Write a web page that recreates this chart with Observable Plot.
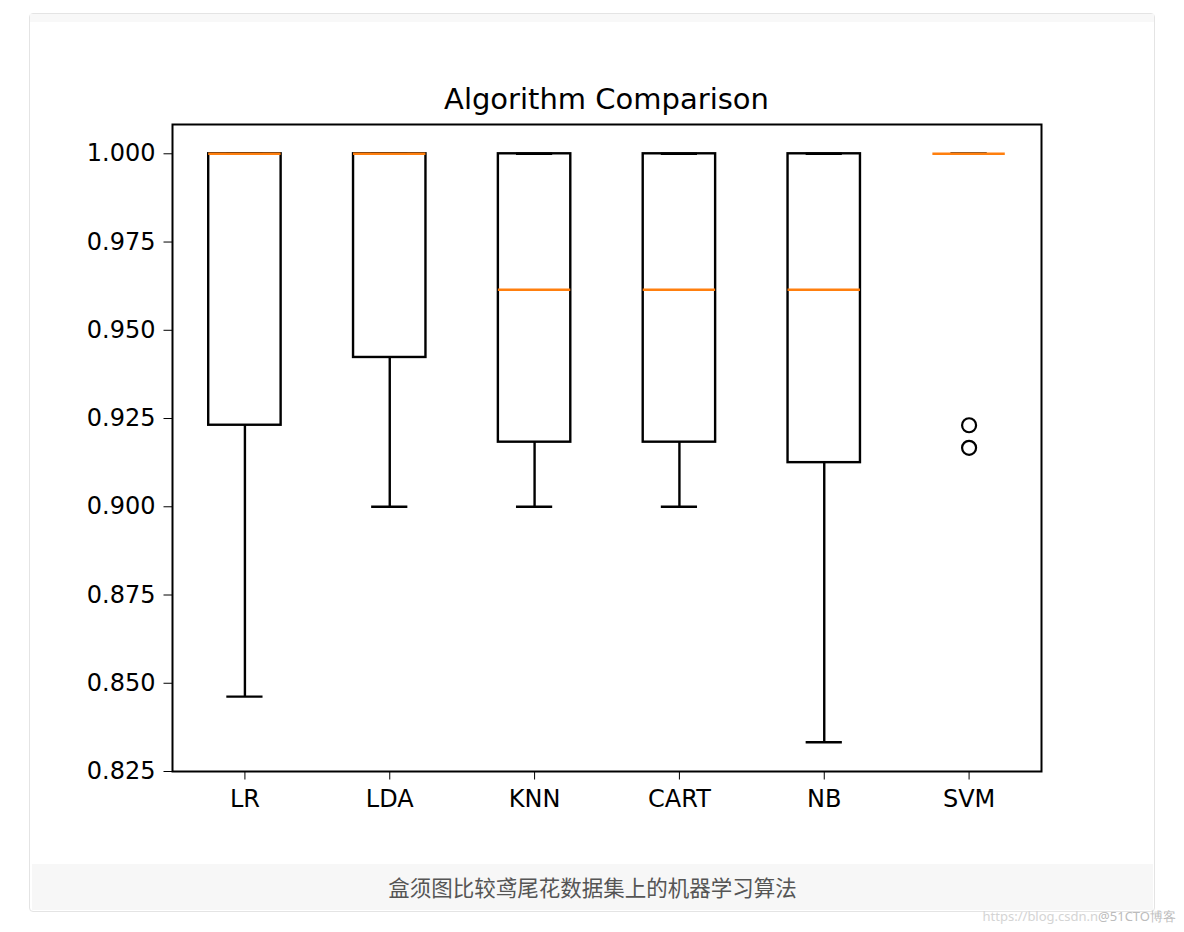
<!DOCTYPE html>
<html>
<head>
<meta charset="utf-8">
<script src="https://cdn.jsdelivr.net/npm/d3@7"></script>
<script src="https://cdn.jsdelivr.net/npm/@observablehq/plot@0.6"></script>
<style>
  html, body { margin: 0; padding: 0; background: #fff; }
  body { width: 1184px; height: 932px; position: relative; overflow: hidden; }
  #card { position: absolute; left: 29px; top: 13px; width: 1124px; height: 897px;
          border: 1.5px solid #e4e4e4; border-radius: 4px; background: #fff; }
  #topband { position: absolute; left: 0; top: 0; right: 0; height: 8px; background: #f8f8f8; }
  #chart { position: absolute; left: 32px; top: 22px; }
  #title { position: absolute; left: 172px; width: 869px; top: 81px; text-align: center;
           font-family: "DejaVu Sans", sans-serif; font-size: 29px; color: #000; line-height: 36px; }
  #caption { position: absolute; left: 32px; top: 864px; width: 1121px; height: 46px;
             background: #f7f7f7; text-align: center; line-height: 46px;
             font-family: "Noto Sans CJK SC", sans-serif; font-size: 21.5px; color: #555; }
  #wm { position: absolute; right: 8px; top: 906px; font-family: "Noto Sans", sans-serif;
        font-size: 13px; color: #d4d4d4; line-height: 20px; }
  #wm b { font-weight: normal; color: #bcbcbc; }
</style>
</head>
<body>
<div id="card"><div id="topband"></div></div>
<div id="chart"></div>
<div id="title">Algorithm Comparison</div>
<div id="caption">盒须图比较鸢尾花数据集上的机器学习算法</div>
<div id="wm">https://blog.csdn.n<b>@51CTO博客</b></div>
<script>
// ---- data ----
const categories = ["LR", "LDA", "KNN", "CART", "NB", "SVM"];
const medians   = [1.0,    1.0,    0.9615, 0.9615, 0.9615, 1.0];
const q1s       = [0.9231, 0.9423, 0.9183, 0.9183, 0.9125, 1.0];
const q3s       = [1.0,    1.0,    1.0,    1.0,    1.0,    1.0];
const whiskLo   = [0.8462, 0.9,    0.9,    0.9,    0.8333, 1.0];
const whiskHi   = [1.0,    1.0,    1.0,    1.0,    1.0,    1.0];
const outlierCat = ["SVM", "SVM"];
const outlierVal = [0.9231, 0.9167];
const yTicks = [0.825, 0.85, 0.875, 0.9, 0.925, 0.95, 0.975, 1.0];

const boxes = categories.map((c, i) => ({
  cat: c, pos: i + 1, med: medians[i], q1: q1s[i], q3: q3s[i], lo: whiskLo[i], hi: whiskHi[i]
}));
const outliers = outlierCat.map((c, i) => ({ pos: categories.indexOf(c) + 1, v: outlierVal[i] }));

const lw = 2.4;
const boxHalf = 0.25, capHalf = 0.125;

const chart = Plot.plot({
  width: 1121,
  height: 842,
  marginLeft: 140,
  marginRight: 112,
  marginTop: 102,
  marginBottom: 93,
  style: { fontFamily: "DejaVu Sans, sans-serif", fontSize: "24px", color: "#000", background: "transparent" },
  x: { type: "linear", domain: [0.5, categories.length + 0.5] },
  y: { domain: [0.825, 1.0083] },
  marks: [
    Plot.axisY({ ticks: yTicks, tickFormat: d3.format(".3f"), tickSize: 8.5, tickPadding: 8.5,
                 tickWidth: 2, fontSize: 24, label: null, stroke: "#000" }),
    Plot.axisX({ ticks: categories.map((c, i) => i + 1), tickFormat: d => categories[d - 1],
                 tickSize: 8.5, tickPadding: 10, fontSize: 24, label: null, stroke: "#000" }),
    // whiskers
    Plot.ruleX(boxes, { x: "pos", y1: "lo", y2: "q1", stroke: "#000", strokeWidth: lw }),
    Plot.ruleX(boxes, { x: "pos", y1: "q3", y2: "hi", stroke: "#000", strokeWidth: lw }),
    // caps
    Plot.ruleY(boxes, { y: "lo", x1: d => d.pos - capHalf, x2: d => d.pos + capHalf, stroke: "#000", strokeWidth: lw }),
    Plot.ruleY(boxes, { y: "hi", x1: d => d.pos - capHalf, x2: d => d.pos + capHalf, stroke: "#000", strokeWidth: lw }),
    // boxes
    Plot.rect(boxes, { x1: d => d.pos - boxHalf, x2: d => d.pos + boxHalf, y1: "q1", y2: "q3",
                       fill: "none", stroke: "#000", strokeWidth: lw }),
    // medians
    Plot.ruleY(boxes, { y: "med", x1: d => d.pos - boxHalf, x2: d => d.pos + boxHalf,
                        stroke: "#ff7f0e", strokeWidth: lw }),
    // fliers
    Plot.dot(outliers, { x: "pos", y: "v", r: 7, stroke: "#000", strokeWidth: 2.2, fill: "none" }),
    Plot.frame({ stroke: "#000", strokeWidth: 2 })
  ]
});
document.getElementById("chart").appendChild(chart);
</script>
</body>
</html>
